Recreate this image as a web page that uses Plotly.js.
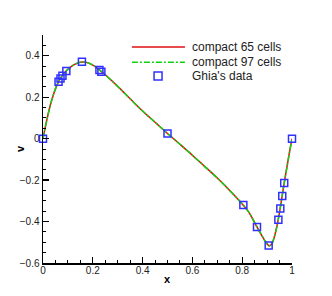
<!DOCTYPE html>
<html><head><meta charset="utf-8">
<script src="https://cdn.plot.ly/plotly-3.0.1.min.js"></script>
<style>html,body{margin:0;padding:0;background:#fff}#chart{width:332px;height:296px}</style>
</head><body><div id="chart"></div>
<script>
// Computed v-velocity along horizontal centerline
var xCurve = [0, 0.01, 0.02, 0.03, 0.04, 0.05, 0.0625, 0.075, 0.09, 0.1, 0.125, 0.15, 0.175, 0.2, 0.225, 0.25, 0.3, 0.35, 0.4, 0.45, 0.5, 0.55, 0.6, 0.65, 0.7, 0.75, 0.8, 0.825, 0.85, 0.875, 0.9, 0.91, 0.92, 0.93, 0.94, 0.95, 0.96, 0.97, 0.98, 0.99, 1.0];
var v65 = [0, 0.06, 0.115, 0.165, 0.205, 0.24, 0.275, 0.30, 0.322, 0.334, 0.357, 0.369, 0.368, 0.355, 0.333, 0.308, 0.252, 0.192, 0.133, 0.079, 0.025, -0.027, -0.080, -0.135, -0.190, -0.250, -0.315, -0.352, -0.405, -0.460, -0.508, -0.517, -0.505, -0.47, -0.42, -0.355, -0.28, -0.205, -0.135, -0.065, 0];
var v97 = [0, 0.06, 0.115, 0.165, 0.205, 0.24, 0.275, 0.30, 0.322, 0.334, 0.357, 0.369, 0.368, 0.355, 0.333, 0.308, 0.252, 0.192, 0.133, 0.079, 0.025, -0.027, -0.080, -0.135, -0.190, -0.250, -0.315, -0.352, -0.405, -0.460, -0.508, -0.517, -0.505, -0.47, -0.42, -0.355, -0.28, -0.205, -0.135, -0.065, 0];
// Ghia et al. reference data
var xGhia = [0, 0.0625, 0.0703, 0.0781, 0.0938, 0.1563, 0.2266, 0.2344, 0.5, 0.8047, 0.8594, 0.9063, 0.9453, 0.9531, 0.9609, 0.9688, 1.0];
var vGhia = [0, 0.27485, 0.29012, 0.30353, 0.32627, 0.37095, 0.33075, 0.32235, 0.02526, -0.31966, -0.42665, -0.51550, -0.39188, -0.33714, -0.27669, -0.21388, 0];
var legendLabels = ["compact 65 cells", "compact 97 cells", "Ghia's data"];
var xTitle = "x", yTitle = "v";

var red = '#e01010', green = '#10d010', blue = '#3030ff';
var fam = 'Liberation Sans, Arial, sans-serif';
var traces = [
  {x: xCurve, y: v65, mode: 'lines', line: {color: red, width: 1.5, shape: 'spline'}, showlegend: false, cliponaxis: false},
  {x: xCurve, y: v97, mode: 'lines', line: {color: green, width: 1.5, dash: '6px,2px,2px,2px', shape: 'spline'}, showlegend: false, cliponaxis: false},
  {x: xGhia, y: vGhia, mode: 'markers', marker: {symbol: 'square-open', size: 7, color: blue, line: {width: 1.5, color: blue}}, showlegend: false, cliponaxis: false}
];
var font = {family: fam, size: 10, color: '#222'};
var axisCommon = {
  showgrid: false, zeroline: false, showline: true, linecolor: '#000', linewidth: 1.5,
  ticks: 'inside', ticklen: 6, tickwidth: 1.2, tickcolor: '#000', mirror: false,
  minor: {ticks: 'inside', ticklen: 3, tickwidth: 1, tickcolor: '#000', dtick: 0.05},
  tickfont: font
};
var layout = {
  width: 332, height: 296,
  margin: {l: 43, r: 40, t: 35, b: 33},
  paper_bgcolor: '#fff', plot_bgcolor: '#fff',
  xaxis: Object.assign({}, axisCommon, {range: [0, 1], dtick: 0.2, tick0: 0, ticklabelstandoff: -3}),
  yaxis: Object.assign({}, axisCommon, {range: [-0.6, 0.5], dtick: 0.2, tick0: 0, ticklabelstandoff: 0}),
  shapes: [
    {type: 'line', xref: 'paper', yref: 'paper', x0: 0.357, x1: 0.57, y0: 0.947, y1: 0.947, line: {color: red, width: 1.5}},
    {type: 'line', xref: 'paper', yref: 'paper', x0: 0.357, x1: 0.57, y0: 0.880, y1: 0.880, line: {color: green, width: 1.5, dash: '6px,2px,2px,2px'}},
    {type: 'rect', xref: 'paper', yref: 'paper', xsizemode: 'pixel', ysizemode: 'pixel', xanchor: 0.462, yanchor: 0.82, x0: -4, x1: 4, y0: -4, y1: 4, line: {color: blue, width: 1.5}}
  ],
  annotations: legendLabels.map(function (t, i) {
    return {text: t, xref: 'paper', yref: 'paper', x: 0.59, y: [0.947, 0.880, 0.82][i], xanchor: 'left', yanchor: 'middle', showarrow: false,
      font: {family: fam, size: 12, color: '#222'}};
  }).concat([
    {text: '<b>' + xTitle + '</b>', xref: 'paper', yref: 'paper', x: 0.5, y: -16/228, xanchor: 'center', yanchor: 'middle', showarrow: false, font: {family: fam, size: 11, color: '#000'}},
    {text: '<b>' + yTitle + '</b>', xref: 'paper', yref: 'paper', x: -23/249, y: 0.5, xanchor: 'center', yanchor: 'middle', textangle: -90, showarrow: false, font: {family: fam, size: 11, color: '#000'}}
  ])
};
Plotly.newPlot('chart', traces, layout, {displayModeBar: false, staticPlot: true});
</script></body></html>
